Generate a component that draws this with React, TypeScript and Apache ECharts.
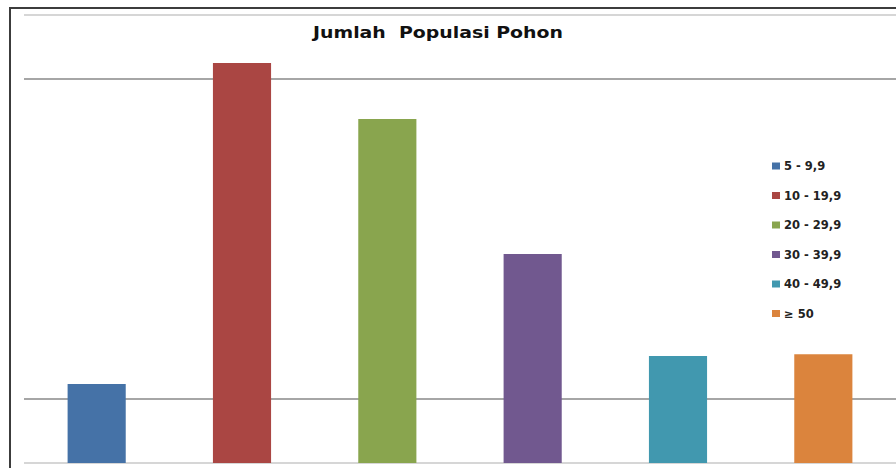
import React, { useEffect, useRef } from "react";
import * as echarts from "echarts";

const chartTitle = "Jumlah  Populasi Pohon";
const categories = ["5 - 9,9", "10 - 19,9", "20 - 29,9", "30 - 39,9", "40 - 49,9", "≥ 50"];
const values = [24.7, 125, 107.5, 65.3, 33.4, 34];
const colors = ["#4572a7", "#aa4643", "#89a54e", "#71588f", "#4198af", "#db843d"];
const gridColors = ["#d6d6d6", "#a6a6a6", "transparent", "transparent", "transparent", "transparent", "#a6a6a6", "#d6d6d6"];

export default function App() {
  const ref = useRef<HTMLDivElement>(null);
  useEffect(() => {
    if (!ref.current) return;
    const chart = echarts.init(ref.current, undefined, { renderer: "svg" });
    const series = categories.map((name, i) => ({
      name,
      type: "bar",
      stack: "all",
      barWidth: "40%",
      itemStyle: { color: colors[i] },
      data: categories.map((_, j) => (j === i ? values[i] : "-")),
    }));
    chart.setOption({
      animation: false,
      backgroundColor: "#ffffff",
      color: colors,
      legend: {
        orient: "vertical",
        left: 772,
        top: 160,
        itemWidth: 8,
        itemHeight: 7,
        itemGap: 17.5,
        icon: "rect",
        padding: 0,
        textStyle: { fontFamily: "DejaVu Sans", fontWeight: "bold", fontSize: 11.5, lineHeight: 12, color: "#222", padding: [0, 0, 0, -1] },
        data: categories,
      },
      grid: { left: 24, right: -2, top: 15, bottom: 5, containLabel: false },
      xAxis: {
        type: "category",
        data: categories,
        axisLine: { show: false },
        axisTick: { show: false },
        axisLabel: { show: false },
      },
      yAxis: {
        type: "value",
        min: 0,
        max: 140,
        interval: 20,
        axisLine: { show: false },
        axisTick: { show: false },
        axisLabel: { show: false },
        splitLine: { show: true, lineStyle: { color: gridColors, width: 2 } },
      },
      graphic: [
        {
          type: "rect",
          shape: { x: 10, y: 8, width: 1000, height: 1000 },
          style: { fill: "none", stroke: "#3c3c3c", lineWidth: 2 },
          silent: true,
        },
        {
          type: "text",
          x: 313,
          y: 25,
          scaleX: 1.26,
          style: {
            text: chartTitle,
            fontFamily: "DejaVu Sans",
            fontWeight: "bold",
            fontSize: 15,
            fill: "#111",
            verticalAlign: "top",
          },
          silent: true,
        },
      ],
      series,
    });
    return () => chart.dispose();
  }, []);
  return <div ref={ref} style={{ position: "absolute", left: 0, top: 0, width: 896, height: 468 }} />;
}
